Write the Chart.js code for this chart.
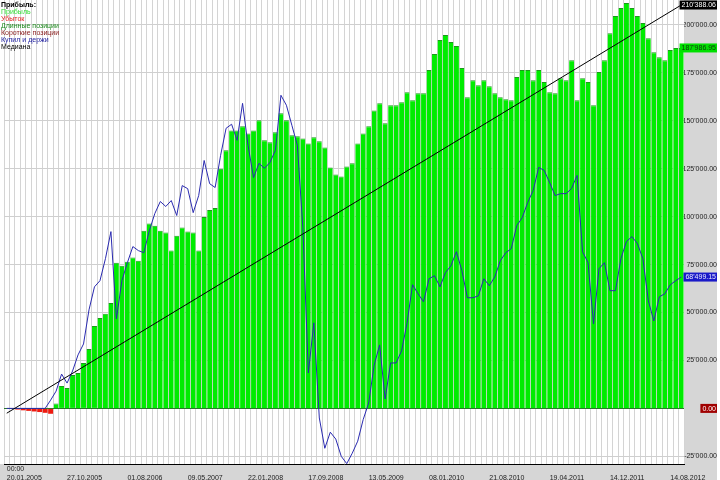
<!DOCTYPE html>
<html>
<head>
<meta charset="utf-8">
<script src="https://cdn.jsdelivr.net/npm/chart.js@4.4.1/dist/chart.umd.min.js"></script>
<style>
  body { margin: 0; background: #fff; }
  canvas { display: block; }
</style>
</head>
<body>
<canvas id="chart" width="720" height="480"></canvas>
<script>
// Equity curve of the strategy (profit / loss), one value per bar
const equity = [0, -200, -600, -1000, -1300, -1600, -1900, -2300, -2800, 2500,
    11700, 10600, 17400, 18500, 23700, 31000, 43000, 47200, 49300, 55000,
    76000, 74400, 76500, 78700, 77000, 92700, 96400, 95300, 92700, 91700,
    82300, 90100, 94300, 92200, 91700, 82300, 99800, 103500, 104500, 125000,
    134600, 145000, 145000, 147100, 143400, 145000, 150300, 139800, 138800, 144000,
    153900, 150300, 142500, 141900, 140800, 138200, 141400, 139300, 136100, 125700,
    122000, 121000, 126200, 127800, 138200, 143400, 147100, 155400, 159100, 148700,
    158100, 158100, 159700, 164900, 160700, 164400, 164400, 176500, 184800, 192100,
    194700, 191100, 189000, 177500, 162300, 171200, 168600, 171200, 168000, 164400,
    162300, 161200, 160700, 172800, 176500, 176500, 171200, 176500, 170200, 164900,
    164400, 172200, 171200, 181600, 160700, 172200, 170200, 158100, 175400, 181600,
    195700, 204600, 208800, 211500, 208800, 204600, 201000, 193100, 185800, 183200,
    181600, 186900, 188000, 187986.95];

// Buy and hold curve
const buyHold = [0, 0, 0, 0, 0, 0, 0, 0, 4300, 9000,
    17900, 13200, 19500, 27900, 33600, 51400, 63400, 66600, 78100, 92200,
    46700, 66600, 76000, 84400, 82300, 81200, 92700, 101600, 107900, 105300,
    108400, 100600, 116200, 114600, 102100, 111000, 129300, 117200, 115200, 132000,
    146100, 148200, 139800, 159100, 137200, 120400, 127800, 125200, 128300, 134600,
    163300, 158100, 147600, 137200, 94300, 18500, 44600, -5000, -20800, -12400,
    -16000, -25000, -28800, -23400, -17100, -5800, 2800, 22600, 33100, 4900,
    23700, 23700, 30000, 44600, 64500, 59800, 55600, 67600, 69200, 63400,
    70800, 74400, 81700, 71800, 57700, 57700, 58700, 67600, 64000, 68600,
    77000, 81200, 83300, 95300, 99500, 107400, 113700, 125700, 124100, 117800,
    111000, 112000, 112000, 114700, 121500, 81700, 76000, 44100, 72900, 76000,
    61400, 61400, 78100, 87000, 89600, 86000, 78100, 56100, 45600, 58200,
    59800, 64500, 66600, 68499.15];

// Median line: start and end value
const median = [-2500, 210388.06];

// Date labels, every 11 bars
const dateLabels = ['20.01.2005', '27.10.2005', '01.08.2006', '09.05.2007', '22.01.2008',
    '17.09.2008', '13.05.2009', '08.01.2010', '21.08.2010', '19.04.2011',
    '14.12.2011', '14.08.2012'];
const labelStep = 11;

// value axis ticks
const yTicks = [-25000, 0, 25000, 50000, 75000, 100000, 125000, 150000, 175000, 200000];

const legendItems = [
    ['Прибыль:', '#000000', true],
    ['Прибыль', '#33dd33', false],
    ['Убыток', '#e02020', false],
    ['Длинные позиции', '#1c8a1c', false],
    ['Короткие позиции', '#8a2020', false],
    ['Купил и держи', '#2020a0', false],
    ['Медиана', '#000000', false]
];

const FONT = 'Liberation Sans, Arial, sans-serif';

function fmt(v) {
    const s = Math.abs(v).toFixed(2).split('.');
    const a = s[0].replace(/\B(?=(\d{3})+(?!\d))/g, "'");
    return (v < 0 ? '-' : '') + a + '.' + s[1];
}

const labels = equity.map((_, i) => i);
const medianData = equity.map(() => null);
medianData[0] = median[0];
medianData[medianData.length - 1] = median[1];

const last = a => a[a.length - 1];

// gray panels behind the axes, legend and last-value markers
const decor = {
    id: 'decor',
    beforeDraw(chart) {
        const { ctx, chartArea: ca } = chart;
        ctx.save();
        ctx.fillStyle = '#ffffff';
        ctx.fillRect(0, 0, chart.width, chart.height);
        ctx.fillStyle = '#d6d6d6';
        ctx.fillRect(ca.right, 0, 717 - ca.right, ca.bottom);
        ctx.fillRect(0, ca.bottom, 717, chart.height - ca.bottom);
        ctx.restore();
    },
    afterDraw(chart) {
        const { ctx } = chart;
        const y = chart.scales.y;
        ctx.save();
        // legend
        legendItems.forEach((it, k) => {
            ctx.font = (it[2] ? 'bold ' : '') + '7px ' + FONT;
            ctx.fillStyle = it[1];
            ctx.textBaseline = 'middle';
            ctx.textAlign = 'left';
            ctx.fillText(it[0], 1, 5 + k * 7.05);
        });
        // last value markers
        const markers = [
            [last(median), '#000000', '#ffffff'],
            [last(equity), '#00e000', '#0a3a0a'],
            [last(buyHold), '#1a1ac8', '#e8e8ff'],
            [Math.min(0, last(equity)), '#a00000', '#ffffff']
        ];
        ctx.font = '7px ' + FONT;
        markers.forEach(m => {
            const txt = fmt(m[0]);
            const w = ctx.measureText(txt).width + 3;
            let py = y.getPixelForValue(m[0]);
            py = Math.max(4.5, py);
            ctx.fillStyle = m[1];
            ctx.fillRect(717 - w, py - 4.5, w, 9);
            ctx.fillStyle = m[2];
            ctx.textAlign = 'right';
            ctx.textBaseline = 'middle';
            ctx.fillText(txt, 716, py + 0.5);
        });
        ctx.restore();
    }
};

new Chart(document.getElementById('chart'), {
    type: 'bar',
    data: {
        labels: labels,
        datasets: [{
            label: 'Медиана',
            type: 'line',
            data: medianData,
            spanGaps: true,
            borderColor: '#000000',
            borderWidth: 1,
            pointRadius: 0,
            order: 1
        }, {
            label: 'Купил и держи',
            type: 'line',
            data: buyHold,
            borderColor: '#2a2ab0',
            borderWidth: 1,
            pointRadius: 0,
            tension: 0,
            order: 2
        }, {
            label: 'Прибыль',
            data: equity,
            backgroundColor: equity.map(v => v < 0 ? '#ee1a10' : '#00ec00'),
            borderColor: '#1a9a1a',
            borderWidth: ctx => equity[ctx.dataIndex] < 0 ? 0 : { top: 1, left: 0, right: 0, bottom: 0 },
            borderSkipped: 'start',
            categoryPercentage: 0.9,
            barPercentage: 1,
            order: 3
        }]
    },
    options: {
        responsive: false,
        animation: false,
        layout: { padding: { left: 4, right: 3, top: 0, bottom: 0 } },
        plugins: {
            legend: { display: false },
            tooltip: { enabled: false }
        },
        scales: {
            x: {
                grid: { color: '#d4d4d4', lineWidth: 1, drawTicks: false, offset: true },
                border: { display: true, color: '#000000', width: 1 },
                ticks: {
                    autoSkip: false,
                    maxRotation: 0,
                    align: 'start',
                    padding: 1,
                    font: { family: FONT, size: 7 },
                    color: '#222',
                    callback: (v, i) => {
                        if (i % labelStep !== 0) return '';
                        const d = dateLabels[i / labelStep];
                        return i === 0 ? ['00:00', d] : ['', d];
                    }
                },
                afterFit: s => {
                    s.height = 16;
                    s.paddingLeft = 0;
                    s.paddingRight = 0;
                }
            },
            y: {
                type: 'linear',
                position: 'right',
                min: -29000,
                max: 213000,
                grid: {
                    drawTicks: false,
                    color: c => c.tick && c.tick.value === 0 ? '#2a7a2a' : '#cfcfcf'
                },
                border: { display: false },
                ticks: {
                    padding: 2,
                    crossAlign: 'far',
                    font: { family: FONT, size: 7 },
                    color: '#222',
                    callback: v => fmt(v)
                },
                afterBuildTicks: s => { s.ticks = yTicks.map(v => ({ value: v })); },
                afterFit: s => {
                    s.width = 33;
                    s.paddingTop = 0;
                    s.paddingBottom = 0;
                }
            }
        }
    },
    plugins: [decor]
});
</script>
</body>
</html>
